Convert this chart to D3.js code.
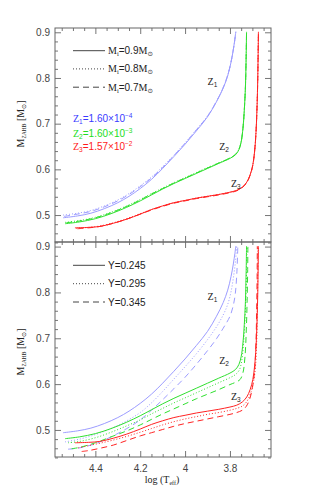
<!DOCTYPE html>
<html><head><meta charset="utf-8">
<script src="https://cdn.jsdelivr.net/npm/d3@7"></script>
<style>
html,body{margin:0;padding:0;background:#fff;}
svg{display:block;}
</style></head>
<body>
<svg id="c" width="311" height="487"></svg>
<script>
// ---------- DATA (log Teff, M_ZAHB) ----------
// reference models (solid): Y=0.245, Mi=0.9
const blueSolid = [[4.544,0.494],[4.48,0.498],[4.42,0.504],[4.36,0.514],[4.30,0.527],[4.25,0.541],[4.20,0.558],[4.15,0.578],[4.10,0.602],[4.05,0.628],[4.00,0.655],[3.95,0.684],[3.90,0.715],[3.86,0.748],[3.83,0.778],[3.81,0.805],[3.795,0.835],[3.785,0.862],[3.778,0.885],[3.774,0.901]];
const greenSolid = [[4.535,0.481],[4.47,0.485],[4.40,0.492],[4.33,0.503],[4.26,0.517],[4.20,0.531],[4.15,0.544],[4.10,0.557],[4.05,0.569],[4.00,0.580],[3.95,0.591],[3.90,0.602],[3.85,0.613],[3.80,0.624],[3.775,0.632],[3.76,0.643],[3.75,0.660],[3.742,0.690],[3.736,0.730],[3.731,0.780],[3.728,0.840],[3.726,0.901]];
const redSolid = [[4.491,0.472],[4.43,0.473],[4.38,0.475],[4.32,0.482],[4.26,0.491],[4.20,0.502],[4.15,0.512],[4.10,0.520],[4.05,0.527],[4.00,0.532],[3.95,0.537],[3.90,0.541],[3.85,0.545],[3.80,0.550],[3.77,0.554],[3.745,0.561],[3.725,0.572],[3.71,0.588],[3.698,0.610],[3.69,0.640],[3.684,0.680],[3.679,0.740],[3.676,0.800],[3.673,0.901]];

// top panel: Mi = 0.8 (dotted), Mi = 0.7 (dashed)
const blueM08 = [[4.544,0.500],[4.48,0.504],[4.42,0.510],[4.36,0.520],[4.30,0.533],[4.25,0.547],[4.20,0.564],[4.15,0.583],[4.10,0.606],[4.05,0.631],[4.00,0.658],[3.95,0.687],[3.90,0.717],[3.86,0.749],[3.83,0.779],[3.81,0.806],[3.795,0.835],[3.785,0.862],[3.778,0.885],[3.774,0.901]];
const blueM07 = [[4.540,0.497],[4.48,0.502],[4.42,0.508],[4.36,0.518],[4.30,0.531],[4.25,0.545],[4.20,0.562],[4.15,0.581],[4.10,0.604],[4.05,0.630],[4.00,0.657],[3.95,0.686],[3.90,0.716],[3.86,0.749],[3.83,0.779],[3.81,0.806],[3.795,0.836],[3.785,0.862],[3.778,0.885],[3.774,0.901]];
const greenM08 = [[4.535,0.484],[4.47,0.488],[4.40,0.495],[4.33,0.506],[4.26,0.520],[4.20,0.534],[4.15,0.547],[4.10,0.559],[4.05,0.571],[4.00,0.582],[3.95,0.593],[3.90,0.604],[3.85,0.614],[3.80,0.625],[3.775,0.633],[3.76,0.644],[3.75,0.661],[3.742,0.690],[3.736,0.730],[3.731,0.780],[3.728,0.840],[3.726,0.901]];
const greenM07 = [[4.530,0.483],[4.47,0.487],[4.40,0.494],[4.33,0.505],[4.26,0.519],[4.20,0.533],[4.15,0.546],[4.10,0.558],[4.05,0.570],[4.00,0.581],[3.95,0.592],[3.90,0.603],[3.85,0.614],[3.80,0.625],[3.775,0.633],[3.76,0.644],[3.75,0.661],[3.742,0.690],[3.736,0.730],[3.731,0.780],[3.728,0.840],[3.726,0.901]];
const redM08 = [[4.485,0.471],[4.43,0.473],[4.38,0.476],[4.32,0.483],[4.26,0.492],[4.20,0.503],[4.15,0.512],[4.10,0.520],[4.05,0.527],[4.00,0.532],[3.95,0.537],[3.90,0.541],[3.85,0.545],[3.80,0.550],[3.77,0.554],[3.745,0.561],[3.725,0.572],[3.71,0.588],[3.698,0.610],[3.69,0.640],[3.684,0.680],[3.679,0.740],[3.676,0.800],[3.673,0.901]];
const redM07 = [[4.480,0.470],[4.43,0.472],[4.38,0.475],[4.32,0.482],[4.26,0.491],[4.20,0.502],[4.15,0.511],[4.10,0.519],[4.05,0.526],[4.00,0.531],[3.95,0.536],[3.90,0.540],[3.85,0.544],[3.80,0.549],[3.77,0.553],[3.745,0.560],[3.725,0.571],[3.71,0.587],[3.698,0.609],[3.69,0.640],[3.684,0.680],[3.679,0.740],[3.676,0.800],[3.673,0.901]];

// bottom panel: Y = 0.295 (dotted), Y = 0.345 (dashed)
const blueY295 = [[4.535,0.474],[4.47,0.480],[4.40,0.490],[4.33,0.503],[4.26,0.520],[4.20,0.538],[4.15,0.559],[4.10,0.584],[4.05,0.611],[4.00,0.638],[3.95,0.666],[3.90,0.697],[3.86,0.725],[3.83,0.751],[3.81,0.774],[3.795,0.802],[3.783,0.838],[3.775,0.870],[3.770,0.901]];
const blueY345 = [[4.522,0.458],[4.47,0.461],[4.40,0.470],[4.33,0.485],[4.26,0.503],[4.20,0.522],[4.15,0.543],[4.10,0.566],[4.05,0.590],[4.00,0.615],[3.95,0.643],[3.90,0.673],[3.86,0.699],[3.83,0.722],[3.80,0.748],[3.785,0.772],[3.776,0.798],[3.769,0.845],[3.765,0.901]];
const greenY295 = [[4.522,0.472],[4.47,0.475],[4.40,0.483],[4.33,0.495],[4.26,0.509],[4.20,0.522],[4.15,0.535],[4.10,0.547],[4.05,0.559],[4.00,0.570],[3.95,0.581],[3.90,0.592],[3.85,0.603],[3.80,0.614],[3.775,0.621],[3.758,0.631],[3.748,0.650],[3.740,0.685],[3.734,0.730],[3.729,0.790],[3.726,0.850],[3.724,0.901]];
const greenY345 = [[4.506,0.459],[4.47,0.462],[4.40,0.472],[4.33,0.485],[4.26,0.498],[4.20,0.511],[4.15,0.523],[4.10,0.535],[4.05,0.546],[4.00,0.557],[3.95,0.568],[3.90,0.578],[3.85,0.588],[3.80,0.599],[3.775,0.604],[3.755,0.610],[3.742,0.625],[3.733,0.660],[3.727,0.720],[3.723,0.790],[3.721,0.850],[3.720,0.901]];
const redY295 = [[4.476,0.461],[4.43,0.466],[4.38,0.471],[4.32,0.478],[4.26,0.486],[4.20,0.495],[4.15,0.503],[4.10,0.511],[4.05,0.518],[4.00,0.524],[3.95,0.529],[3.90,0.534],[3.85,0.538],[3.80,0.543],[3.77,0.547],[3.745,0.552],[3.725,0.562],[3.708,0.580],[3.695,0.605],[3.686,0.640],[3.681,0.690],[3.678,0.760],[3.676,0.830],[3.675,0.901]];
const redY345 = [[4.461,0.453],[4.43,0.455],[4.38,0.460],[4.32,0.467],[4.26,0.477],[4.20,0.487],[4.15,0.494],[4.10,0.501],[4.05,0.508],[4.00,0.514],[3.95,0.519],[3.90,0.524],[3.85,0.529],[3.80,0.534],[3.77,0.538],[3.745,0.543],[3.728,0.551],[3.713,0.566],[3.700,0.592],[3.690,0.630],[3.684,0.690],[3.681,0.760],[3.679,0.830],[3.678,0.901]];

const xMajorTicks = [4.4, 4.2, 4.0, 3.8];
const xTickLabels = ["4.4", "4.2", "4", "3.8"];
const yMajorTicks = [0.5, 0.6, 0.7, 0.8, 0.9];
const yTickLabels = ["0.5", "0.6", "0.7", "0.8", "0.9"];
const massLegend = ["0.9", "0.8", "0.7"];
const heliumLegend = ["Y=0.245", "Y=0.295", "Y=0.345"];
const zNames = ["1", "2", "3"];
const zValues = ["1.60", "1.60", "1.57"];
const zExps = ["\u22124", "\u22123", "\u22122"];

// ---------- STYLE ----------
const COLORS = ["#9c9cff", "#2fe02f", "#ff2222"];
const TEXTCOL = ["#3a3aff", "#22dd22", "#ff1a1a"];
const DASH = [null, "1,2", "6,4"];
const SANS = "'Liberation Sans', Arial, sans-serif";
const SERIF = "'Liberation Serif', 'DejaVu Serif', serif";
const FRAME = "#666";

const svg = d3.select("#c");
const L = 55, R = 271, T = 28, MID = 242, B = 457;

const x = d3.scaleLinear().domain([4.58, 3.617]).range([L, R]);
const yTop = d3.scaleLinear().domain([0.441, 0.9094]).range([MID, T]);
const yBot = d3.scaleLinear().domain([0.441, 0.910]).range([B, MID]);

const xMinor = d3.range(73, 92).map(i => +(i * 0.05).toFixed(2)).filter(v => v > 3.617 && v < 4.58 && !xMajorTicks.some(m => Math.abs(m - v) < 1e-6));
const yMinor = d3.range(22, 46).map(i => +(i * 0.02).toFixed(2)).filter(v => !yMajorTicks.some(m => Math.abs(m - v) < 1e-6));

function drawAxes(y, top, bottom, showX) {
  const g = svg.append("g");
  const fmtY = d => yTickLabels[yMajorTicks.findIndex(m => Math.abs(m - d) < 1e-6)];
  const fmtX = d => xTickLabels[xMajorTicks.findIndex(m => Math.abs(m - d) < 1e-6)];
  g.append("g").attr("transform", `translate(${L},0)`)
    .call(d3.axisLeft(y).tickValues(yMajorTicks).tickSize(-6).tickPadding(5).tickFormat(fmtY));
  g.append("g").attr("transform", `translate(${L},0)`)
    .call(d3.axisLeft(y).tickValues(yMinor).tickSize(-3).tickFormat(""));
  g.append("g").attr("transform", `translate(${R},0)`)
    .call(d3.axisRight(y).tickValues(yMajorTicks).tickSize(-6).tickFormat(""));
  g.append("g").attr("transform", `translate(${R},0)`)
    .call(d3.axisRight(y).tickValues(yMinor).tickSize(-3).tickFormat(""));
  g.append("g").attr("transform", `translate(0,${top})`)
    .call(d3.axisTop(x).tickValues(xMajorTicks).tickSize(-6).tickFormat(""));
  g.append("g").attr("transform", `translate(0,${top})`)
    .call(d3.axisTop(x).tickValues(xMinor).tickSize(-3).tickFormat(""));
  g.append("g").attr("transform", `translate(0,${bottom})`)
    .call(d3.axisBottom(x).tickValues(xMajorTicks).tickSize(-6).tickPadding(8).tickFormat(showX ? fmtX : ""));
  g.append("g").attr("transform", `translate(0,${bottom})`)
    .call(d3.axisBottom(x).tickValues(xMinor).tickSize(-3).tickFormat(""));
  g.selectAll(".domain").remove();
  g.selectAll(".tick line").attr("stroke", FRAME).attr("stroke-width", 0.9);
  g.selectAll(".tick text").attr("font-family", SANS).attr("font-size", 10).attr("fill", "#444");
  g.append("rect").attr("x", L).attr("y", top).attr("width", R - L).attr("height", bottom - top)
    .attr("fill", "none").attr("stroke", FRAME).attr("stroke-width", 1);
}

function drawCurves(y, top, bottom, series, id) {
  svg.append("clipPath").attr("id", id).append("rect")
    .attr("x", L).attr("y", top).attr("width", R - L).attr("height", bottom - top);
  const line = d3.line().x(d => x(d[0])).y(d => y(d[1])).curve(d3.curveCatmullRom.alpha(0.5));
  const g = svg.append("g").attr("clip-path", `url(#${id})`);
  series.forEach(s => {
    g.append("path").attr("d", line(s.data)).attr("fill", "none")
      .attr("stroke", COLORS[s.c]).attr("stroke-width", 1)
      .attr("stroke-dasharray", DASH[s.s]);
  });
}

const topSeries = [
  {data: blueM07, c: 0, s: 2}, {data: blueM08, c: 0, s: 1}, {data: blueSolid, c: 0, s: 0},
  {data: greenM07, c: 1, s: 2}, {data: greenM08, c: 1, s: 1}, {data: greenSolid, c: 1, s: 0},
  {data: redM07, c: 2, s: 2}, {data: redM08, c: 2, s: 1}, {data: redSolid, c: 2, s: 0}
];
const botSeries = [
  {data: blueY345, c: 0, s: 2}, {data: blueY295, c: 0, s: 1}, {data: blueSolid, c: 0, s: 0},
  {data: greenY345, c: 1, s: 2}, {data: greenY295, c: 1, s: 1}, {data: greenSolid, c: 1, s: 0},
  {data: redY345, c: 2, s: 2}, {data: redY295, c: 2, s: 1}, {data: redSolid, c: 2, s: 0}
];

drawCurves(yTop, T, MID, topSeries, "clipTop");
drawCurves(yBot, MID, B, botSeries, "clipBot");
drawAxes(yTop, T, MID, false);
drawAxes(yBot, MID, B, true);

// ---------- LEGENDS ----------
const legTopY = [50.7, 68.9, 87.2];
massLegend.forEach((m, i) => {
  svg.append("line").attr("x1", 73).attr("x2", 105).attr("y1", legTopY[i]).attr("y2", legTopY[i])
    .attr("stroke", "#444").attr("stroke-width", 1).attr("stroke-dasharray", DASH[i]);
  const t = svg.append("text").attr("x", 108).attr("y", legTopY[i] + 3.5).attr("font-size", 10).attr("fill", "#222");
  t.append("tspan").attr("font-family", SERIF).text("M");
  t.append("tspan").attr("font-family", SERIF).attr("font-size", 6.5).attr("dy", 2).text("i");
  t.append("tspan").attr("font-family", SANS).attr("dy", -2).text("=" + m);
  t.append("tspan").attr("font-family", SERIF).text("M");
  t.append("tspan").attr("font-family", "DejaVu Sans").attr("font-size", 6.5).attr("dy", 2).text("\u2299");
});
const legBotY = [265.3, 283.7, 302];
heliumLegend.forEach((h, i) => {
  svg.append("line").attr("x1", 73).attr("x2", 105).attr("y1", legBotY[i]).attr("y2", legBotY[i])
    .attr("stroke", "#444").attr("stroke-width", 1).attr("stroke-dasharray", DASH[i]);
  svg.append("text").attr("x", 108).attr("y", legBotY[i] + 3.5).attr("font-size", 10)
    .attr("font-family", SANS).attr("fill", "#222").text(h);
});
const zLegY = [118.5, 133, 146.5];
zNames.forEach((z, i) => {
  const t = svg.append("text").attr("x", 73).attr("y", zLegY[i] + 3.5).attr("font-size", 10).attr("fill", TEXTCOL[i]);
  t.append("tspan").attr("font-family", SERIF).text("Z");
  t.append("tspan").attr("font-family", SANS).attr("font-size", 6.5).attr("dy", 2).text(z);
  t.append("tspan").attr("font-family", SANS).attr("dy", -2).text("=" + zValues[i] + "\u00d710");
  t.append("tspan").attr("font-family", SANS).attr("font-size", 6.5).attr("dy", -4).text(zExps[i]);
});

// curve labels
const curveLabTop = [[3.882, 0.792], [3.830, 0.650], [3.778, 0.568]];
const curveLabBot = [[3.882, 0.791], [3.830, 0.652], [3.778, 0.574]];
function curveLabels(y, pos) {
  pos.forEach((p, i) => {
    const t = svg.append("text").attr("x", x(p[0]) - 4).attr("y", y(p[1]) + 3.5).attr("font-size", 10).attr("fill", "#222");
    t.append("tspan").attr("font-family", SERIF).text("Z");
    t.append("tspan").attr("font-family", SANS).attr("font-size", 6.5).attr("dy", 2).text(zNames[i]);
  });
}
curveLabels(yTop, curveLabTop);
curveLabels(yBot, curveLabBot);

// ---------- AXIS TITLES ----------
function yTitle(cy) {
  const t = svg.append("text").attr("transform", `translate(24,${cy}) rotate(-90)`)
    .attr("text-anchor", "middle").attr("font-size", 10).attr("fill", "#222");
  t.append("tspan").attr("font-family", SERIF).text("M");
  t.append("tspan").attr("font-family", SERIF).attr("font-size", 5.5).attr("dy", 2).text("ZAHB");
  t.append("tspan").attr("font-family", SERIF).attr("dy", -2).text(" [M");
  t.append("tspan").attr("font-family", "DejaVu Sans").attr("font-size", 6).attr("dy", 2).text("\u2299");
  t.append("tspan").attr("font-family", SERIF).attr("dy", -2).text("]");
}
yTitle(124);
yTitle(352);

const xt = svg.append("text").attr("x", 162).attr("y", 483).attr("text-anchor", "middle")
  .attr("font-size", 10).attr("fill", "#222").attr("font-family", SERIF);
xt.append("tspan").text("log (T");
xt.append("tspan").attr("font-size", 6).attr("dy", 2).text("eff");
xt.append("tspan").attr("dy", -2).text(")");
</script>
</body></html>
